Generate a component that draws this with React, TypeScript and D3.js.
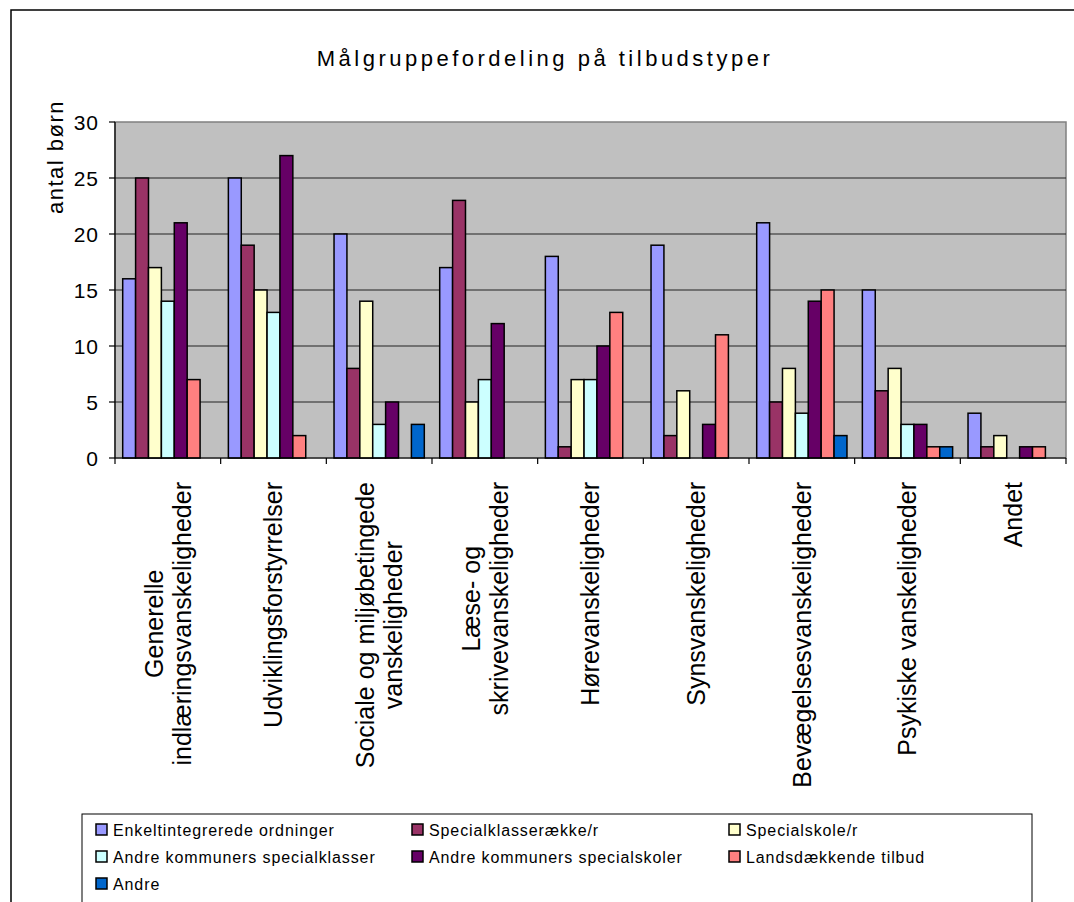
import React, { useMemo } from "react";
import * as d3 from "d3";

const title = "Målgruppefordeling på tilbudstyper";
const yAxisTitle = "antal børn";

const categories: string[][] = [
  ["Generelle", "indlæringsvanskeligheder"],
  ["Udviklingsforstyrrelser"],
  ["Sociale og miljøbetingede", "vanskeligheder"],
  ["Læse- og", "skrivevanskeligheder"],
  ["Hørevanskeligheder"],
  ["Synsvanskeligheder"],
  ["Bevægelsesvanskeligheder"],
  ["Psykiske vanskeligheder"],
  ["Andet"],
];

const seriesNames = [
  "Enkeltintegrerede ordninger",
  "Specialklasserække/r",
  "Specialskole/r",
  "Andre kommuners specialklasser",
  "Andre kommuners specialskoler",
  "Landsdækkende tilbud",
  "Andre",
];

const enkeltintegrerede = [16, 25, 20, 17, 18, 19, 21, 15, 4];
const specialklasser = [25, 19, 8, 23, 1, 2, 5, 6, 1];
const specialskoler = [17, 15, 14, 5, 7, 6, 8, 8, 2];
const andreKlasser = [14, 13, 3, 7, 7, 0, 4, 3, 0];
const andreSkoler = [21, 27, 5, 12, 10, 3, 14, 3, 1];
const landsdaekkende = [7, 2, 0, 0, 13, 11, 15, 1, 1];
const andre = [0, 0, 3, 0, 0, 0, 2, 1, 0];

const seriesValues = [
  enkeltintegrerede,
  specialklasser,
  specialskoler,
  andreKlasser,
  andreSkoler,
  landsdaekkende,
  andre,
];

const seriesColors = ["#9999FF", "#993366", "#FFFFCC", "#CCFFFF", "#660066", "#FF8080", "#0066CC"];

const yTicks = [0, 5, 10, 15, 20, 25, 30];

const FONT = "'Liberation Sans', Arial, sans-serif";

export default function App() {
  const W = 1074;
  const H = 902;
  const plot = { left: 115, right: 1066, top: 122, bottom: 458 };

  const catKeys = categories.map((c) => c.join(" "));
  const x0 = d3
    .scaleBand<string>()
    .domain(catKeys)
    .range([plot.left, plot.right])
    .paddingInner(0.1457)
    .paddingOuter(0.0729);
  const x1 = d3
    .scaleBand<string>()
    .domain(seriesNames)
    .range([0, x0.bandwidth()])
    .padding(0);
  const y = d3.scaleLinear().domain([0, 30]).range([plot.bottom, plot.top]);

  const labelFontSize = 25;
  const lineGap = 28;

  const maxLens = useMemo(() => {
    const canvas = document.createElement("canvas");
    const ctx = canvas.getContext("2d")!;
    ctx.font = `${labelFontSize}px 'Liberation Sans', Arial, sans-serif`;
    return categories.map((lines) => Math.max(...lines.map((l) => ctx.measureText(l).width)));
  }, []);

  const step = x0.step();
  const boundaries = d3.range(categories.length + 1).map((i) => plot.left + i * step);

  const legendCols = [96, 412, 729];
  const legendRows = [830, 857, 884];

  return (
    <svg
      width={W}
      height={H}
      style={{ position: "absolute", left: 0, top: 0, background: "#fff" }}
      fontFamily={FONT}
    >
      {/* outer frame */}
      <rect x={11} y={10} width={1100} height={950} fill="#fff" stroke="#000" strokeWidth={1.5} />

      {/* title */}
      <text x={545} y={66} textAnchor="middle" fontSize={22} letterSpacing={3.5} fill="#000">
        {title}
      </text>

      {/* plot background */}
      <rect
        x={plot.left}
        y={plot.top}
        width={plot.right - plot.left}
        height={plot.bottom - plot.top}
        fill="#C0C0C0"
        stroke="#808080"
        strokeWidth={1.5}
      />

      {/* gridlines */}
      {yTicks
        .filter((t) => t > 0 && t < 30)
        .map((t) => (
          <line
            key={"g" + t}
            x1={plot.left}
            x2={plot.right}
            y1={y(t)}
            y2={y(t)}
            stroke="#222"
            strokeWidth={1}
          />
        ))}

      {/* bars */}
      {seriesNames.map((s, si) =>
        catKeys.map((c, ci) => {
          const v = seriesValues[si][ci];
          if (!v) return null;
          const bx = (x0(c) as number) + (x1(s) as number);
          return (
            <rect
              key={s + c}
              x={bx}
              y={y(v)}
              width={x1.bandwidth()}
              height={y(0) - y(v)}
              fill={seriesColors[si]}
              stroke="#000"
              strokeWidth={1.5}
            />
          );
        })
      )}

      {/* y axis */}
      <line x1={plot.left} x2={plot.left} y1={plot.top} y2={plot.bottom} stroke="#000" strokeWidth={1.2} />
      {yTicks.map((t) => (
        <g key={"yt" + t}>
          <line x1={plot.left - 6} x2={plot.left} y1={y(t)} y2={y(t)} stroke="#000" strokeWidth={1.2} />
          <text
            x={99}
            y={y(t)}
            dy="0.36em"
            textAnchor="end"
            fontSize={21}
            letterSpacing={1}
            fill="#000"
          >
            {t}
          </text>
        </g>
      ))}

      {/* x axis */}
      <line x1={plot.left} x2={plot.right} y1={plot.bottom} y2={plot.bottom} stroke="#000" strokeWidth={1.2} />
      {boundaries.map((bx, i) => (
        <line key={"xt" + i} x1={bx} x2={bx} y1={plot.bottom} y2={plot.bottom + 6} stroke="#000" strokeWidth={1.2} />
      ))}

      {/* category labels */}
      {categories.map((lines, ci) => {
        const cx = (x0(catKeys[ci]) as number) + x0.bandwidth() / 2;
        const cy = 482 + maxLens[ci] / 2;
        const n = lines.length;
        return (
          <g key={"cl" + ci}>
            {lines.map((l, li) => {
              const bx = cx + (li - (n - 1) / 2) * lineGap + 0.35 * labelFontSize;
              return (
                <text
                  key={li}
                  transform={`translate(${bx},${cy}) rotate(-90)`}
                  textAnchor="middle"
                  fontSize={labelFontSize}
                  fill="#000"
                >
                  {l}
                </text>
              );
            })}
          </g>
        );
      })}

      {/* y axis title */}
      <text
        transform={`translate(63,157) rotate(-90)`}
        textAnchor="middle"
        fontSize={22}
        letterSpacing={1.5}
        fill="#000"
      >
        {yAxisTitle}
      </text>

      {/* legend */}
      <rect x={82} y={814} width={950} height={150} fill="#fff" stroke="#000" strokeWidth={1} />
      {seriesNames.map((s, i) => {
        const col = i % 3;
        const row = Math.floor(i / 3);
        const lx = legendCols[col];
        const ly = legendRows[row];
        return (
          <g key={"lg" + i}>
            <rect x={lx} y={ly - 6} width={11} height={11} fill={seriesColors[i]} stroke="#000" strokeWidth={1.5} />
            <text x={lx + 17} y={ly} dy="0.36em" fontSize={16} letterSpacing={0.9} fill="#000">
              {s}
            </text>
          </g>
        );
      })}
    </svg>
  );
}
